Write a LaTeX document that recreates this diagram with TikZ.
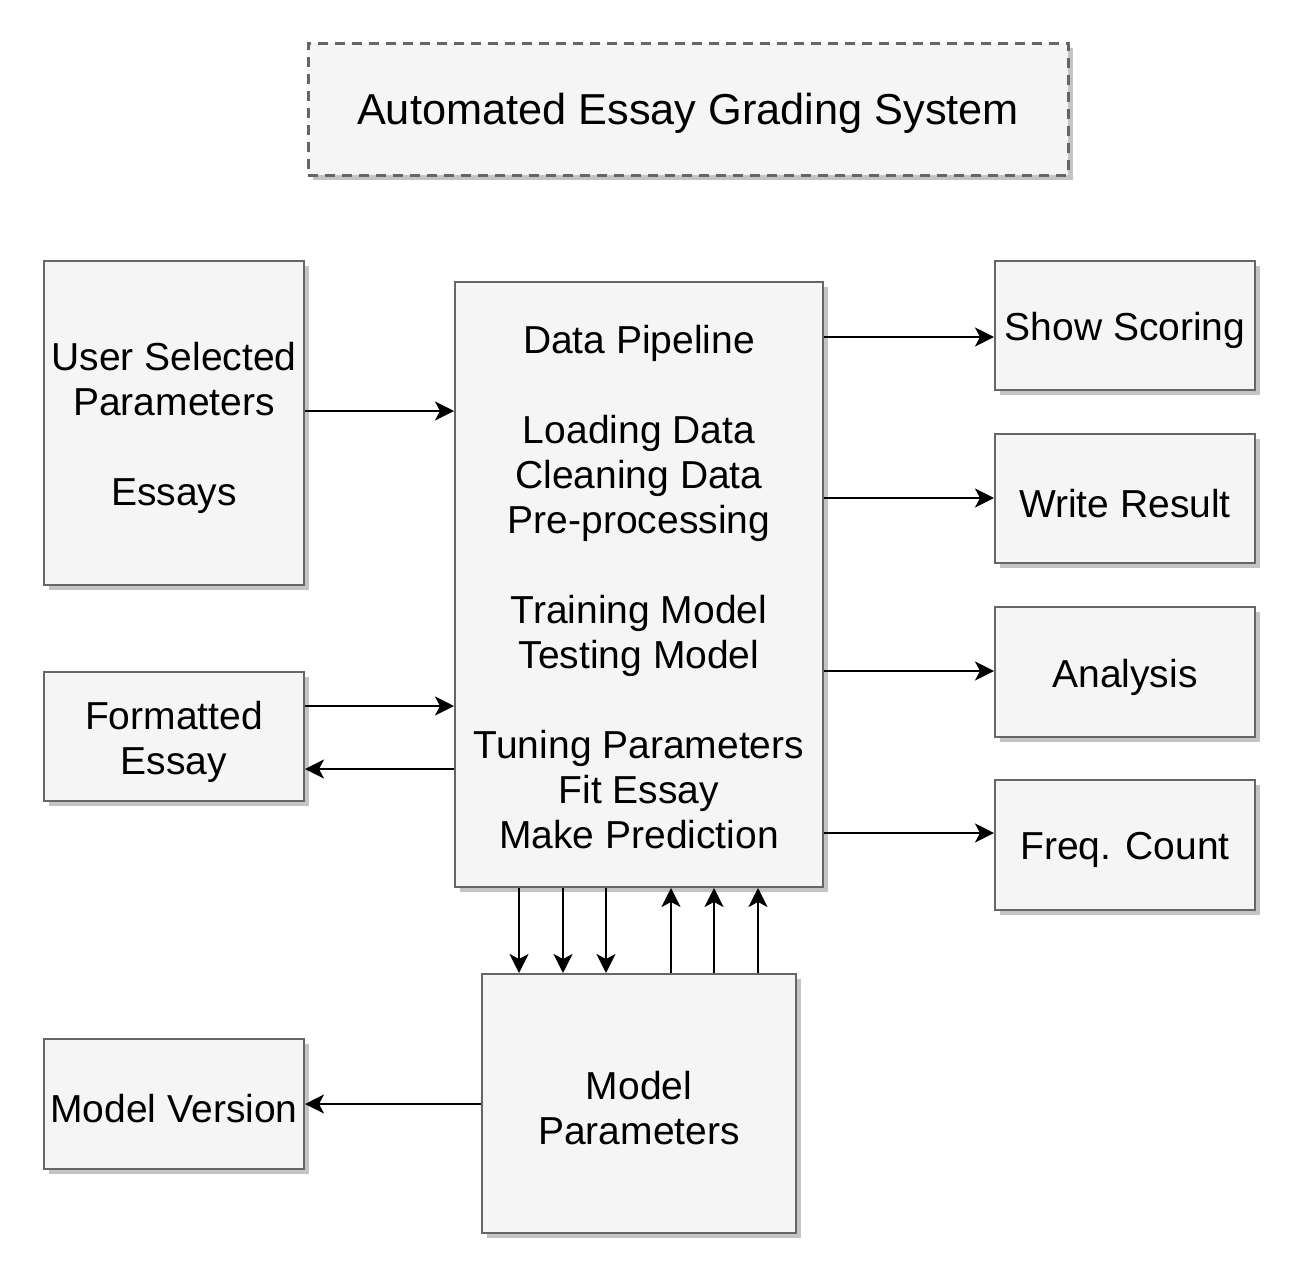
\documentclass[tikz,border=0pt]{standalone}
\usepackage{fontspec}
\setmainfont{Liberation Sans}
\usetikzlibrary{arrows.meta,shadows}
\definecolor{boxfill}{HTML}{F5F5F5}
\definecolor{boxline}{HTML}{666666}
\definecolor{shadowc}{HTML}{C4C4C4}
\tikzset{
  box/.style={draw=boxline,fill=boxfill,line width=2pt,inner sep=0pt,
    drop shadow={shadow xshift=5pt,shadow yshift=-5pt,fill=shadowc,opacity=1}},
  txt/.style={inner sep=0pt,align=center,font=\fontsize{39}{45}\selectfont,yshift=-5pt},
  conn/.style={line width=2.2pt,-{Stealth[length=19pt,width=19pt,inset=5pt]}}}
\begin{document}
\begin{tikzpicture}[x=1pt,y=-1pt]
\useasboundingbox (0,0) rectangle (1300,1266);
\node[box,dashed,dash pattern=on 10pt off 7pt,line width=3pt,minimum width=760pt,minimum height=132pt] (title) at (688,109) {};
\node[txt,font=\fontsize{43.3}{50}\selectfont,yshift=1pt] (titleT) at (title.center) {Automated Essay Grading System};
\node[box,minimum width=260pt,minimum height=324pt] (user) at (174,423) {};
\node[txt] (userT) at (user.center) {User Selected\\Parameters\\[45pt]Essays};
\node[box,minimum width=260pt,minimum height=129pt] (fmt) at (174,736.5) {};
\node[txt] (fmtT) at (fmt.center) {Formatted\\Essay};
\node[box,minimum width=260pt,minimum height=130pt] (ver) at (174,1104) {};
\node[txt] (verT) at (ver.center) {Model Version};
\node[box,minimum width=368pt,minimum height=605pt] (core) at (639,584.5) {};
\node[txt,yshift=2pt] (coreT) at (core.center)
  {Data Pipeline\\[45pt]Loading Data\\Cleaning Data\\Pre-processing\\[45pt]Training Model\\Testing Model\\[45pt]Tuning Parameters\\Fit Essay\\Make Prediction};
\node[box,minimum width=260pt,minimum height=129pt] (show) at (1125,325.5) {};
\node[txt] (showT) at (show.center) {Show Scoring};
\node[box,minimum width=260pt,minimum height=129pt] (write) at (1125,498.5) {};
\node[txt] (writeT) at (write.center) {Write Result};
\node[box,minimum width=260pt,minimum height=130pt] (ana) at (1125,672) {};
\node[txt] (anaT) at (ana.center) {Analysis};
\node[box,minimum width=260pt,minimum height=130pt] (freq) at (1125,845) {};
\node[txt] (freqT) at (freq.center) {Freq. Count};
\node[box,minimum width=314pt,minimum height=259pt] (mp) at (639,1103.5) {};
\node[txt] (mpT) at (mp.center) {Model\\Parameters};
% connectors
\draw[conn] (user.east |- 0,411) -- (core.west |- 0,411);
\draw[conn] (fmt.east |- 0,706) -- (core.west |- 0,706);
\draw[conn] (core.west |- 0,769) -- (fmt.east |- 0,769);
\draw[conn] (core.east |- 0,337) -- (show.west |- 0,337);
\draw[conn] (core.east |- 0,498) -- (write.west |- 0,498);
\draw[conn] (core.east |- 0,671) -- (ana.west |- 0,671);
\draw[conn] (core.east |- 0,833) -- (freq.west |- 0,833);
\foreach \xx in {519,563,606} \draw[conn] (core.south -| \xx,0) -- (mp.north -| \xx,0);
\foreach \xx in {671,714,758} \draw[conn] (mp.north -| \xx,0) -- (core.south -| \xx,0);
\draw[conn] (mp.west |- 0,1104) -- (ver.east |- 0,1104);
\end{tikzpicture}
\end{document}
